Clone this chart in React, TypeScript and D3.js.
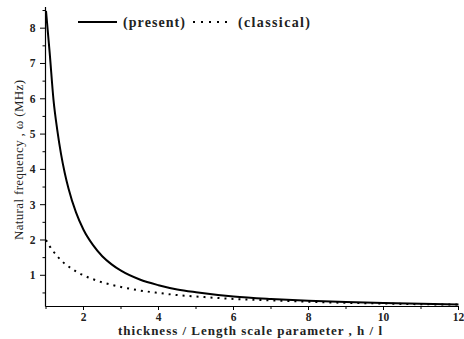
import React from "react";
import * as d3 from "d3";

const xValues = [1, 1.1, 1.2, 1.3, 1.4, 1.5, 1.6, 1.8, 2, 2.25, 2.5, 2.75, 3, 3.5, 4, 4.5, 5, 6, 7, 8, 9, 10, 11, 12];
const presentValues = [8.49, 7.28, 5.97, 5.12, 4.44, 3.9, 3.46, 2.78, 2.29, 1.86, 1.54, 1.31, 1.13, 0.88, 0.72, 0.6, 0.52, 0.4, 0.33, 0.28, 0.244, 0.216, 0.194, 0.176];
const classicalValues = [2.0, 1.82, 1.67, 1.54, 1.43, 1.33, 1.25, 1.11, 1.0, 0.89, 0.8, 0.73, 0.67, 0.57, 0.5, 0.44, 0.4, 0.33, 0.29, 0.25, 0.22, 0.2, 0.18, 0.17];
const xTickLabels = [2, 4, 6, 8, 10, 12];
const xMinorTicks = [1, 3, 5, 7, 9, 11];
const yTickLabels = [1, 2, 3, 4, 5, 6, 7, 8];
const yMinorTicks = [0.5, 1.5, 2.5, 3.5, 4.5, 5.5, 6.5, 7.5, 8.5];
const seriesNames = ["(present)", "(classical)"];

export default function App() {
  const left = 46, right = 458.5, top = 7, bottom = 306;
  const x = d3.scaleLinear().domain([1, 12]).range([left, right]);
  const y = d3.scaleLinear().domain([0.13, 8.6]).range([bottom, top]);
  const font = "'Liberation Serif', 'Times New Roman', serif";

  const line = d3
    .line<number>()
    .x((_, i) => x(xValues[i]))
    .y((d) => y(d))
    .curve(d3.curveMonotoneX);

  return (
    <svg width={464} height={339} style={{ position: "absolute", left: 0, top: 0, background: "#fff" }}>
      <defs>
        <clipPath id="plot">
          <rect x={left} y={top} width={right - left + 2} height={bottom - top} />
        </clipPath>
      </defs>
      {/* axes */}
      <line x1={left - 0.5} x2={left - 0.5} y1={top} y2={bottom + 0.5} stroke="#000" strokeWidth={1.2} />
      <line x1={left - 0.5} x2={right} y1={bottom + 0.5} y2={bottom + 0.5} stroke="#000" strokeWidth={1.2} />
      {yTickLabels.map((v) => (
        <g key={"y" + v}>
          <line x1={left - 6} x2={left} y1={y(v)} y2={y(v)} stroke="#000" strokeWidth={1} />
          <text x={left - 10.5} y={y(v) + 4} textAnchor="end" fontFamily={font} fontWeight="bold" fontSize={11.5} fill="#222">
            {v}
          </text>
        </g>
      ))}
      {yMinorTicks.map((v) => (
        <line key={"ym" + v} x1={left - 3.5} x2={left} y1={y(v)} y2={y(v)} stroke="#000" strokeWidth={1} />
      ))}
      {xTickLabels.map((v) => (
        <g key={"x" + v}>
          <line x1={x(v)} x2={x(v)} y1={bottom} y2={bottom + 4} stroke="#000" strokeWidth={1} />
          <text x={x(v)} y={bottom + 15} textAnchor="middle" fontFamily={font} fontWeight="bold" fontSize={11.5} fill="#222">
            {v}
          </text>
        </g>
      ))}
      {xMinorTicks.map((v) => (
        <line key={"xm" + v} x1={x(v)} x2={x(v)} y1={bottom} y2={bottom + 3} stroke="#000" strokeWidth={1} />
      ))}
      {/* curves */}
      <g clipPath="url(#plot)">
        <path d={line(classicalValues) || ""} fill="none" stroke="#000" strokeWidth={2} strokeDasharray="2,5" />
        <path d={line(presentValues) || ""} fill="none" stroke="#000" strokeWidth={2} />
      </g>
      {/* legend */}
      <line x1={78} x2={117} y1={22} y2={22} stroke="#000" strokeWidth={2} />
      <text x={123} y={26.5} fontFamily={font} fontWeight="bold" fontSize={14} fill="#222" textLength={62} lengthAdjust="spacing">
        {seriesNames[0]}
      </text>
      <line x1={193} x2={229} y1={22} y2={22} stroke="#000" strokeWidth={2} strokeDasharray="2,6" />
      <text x={238} y={26.5} fontFamily={font} fontWeight="bold" fontSize={14} fill="#222" textLength={72} lengthAdjust="spacing">
        {seriesNames[1]}
      </text>
      {/* axis titles */}
      <text x={118} y={335} fontFamily={font} fontWeight="bold" fontSize={13} fill="#222" textLength={264} lengthAdjust="spacing">
        thickness / Length scale parameter , h / l
      </text>
      <text
        transform={`translate(23,240) rotate(-90)`}
        fontFamily={font}
        fontSize={13}
        fill="#222"
        textLength={160}
        lengthAdjust="spacing"
      >
        Natural frequency , ω (MHz)
      </text>
    </svg>
  );
}
